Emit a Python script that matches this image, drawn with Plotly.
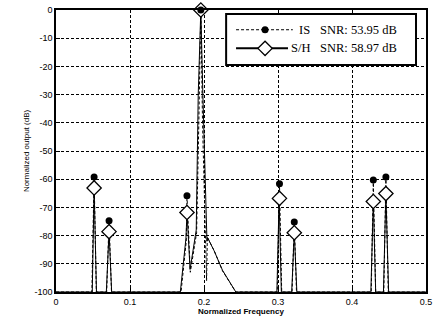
import plotly.graph_objects as go

# Tone markers (frequency, level in dB)
tone_f = [0.0515, 0.0717, 0.177, 0.1957, 0.302, 0.322, 0.4288, 0.4458]
is_db = [-59.2, -74.7, -65.9, 0.0, -61.6, -75.2, -60.3, -59.2]
sh_db = [-63.1, -78.6, -71.8, 0.0, -66.8, -79.0, -67.9, -65.1]

# Spectrum traces
is_x = [0.0, 0.0485, 0.0515, 0.0545, 0.0685, 0.0717, 0.0750, 0.1690, 0.1760, 0.1770,
        0.1815, 0.1900, 0.1930, 0.1957, 0.1980, 0.2035, 0.2045, 0.2140, 0.2250, 0.2430,
        0.2990, 0.3020, 0.3050, 0.3190, 0.3220, 0.3250, 0.4260, 0.4288, 0.4320, 0.4430,
        0.4458, 0.4490, 0.5]
is_y = [-100, -100, -59.2, -100, -100, -74.7, -100, -100, -82, -65.9,
        -93, -79, -40, 0, -40, -96, -80.5, -85.5, -92.5, -100,
        -100, -61.6, -100, -100, -75.2, -100, -100, -60.3, -100, -100,
        -59.2, -100, -100]
sh_x = [0.0, 0.0490, 0.0515, 0.0547, 0.0680, 0.0717, 0.0752, 0.1680, 0.1756, 0.1770,
        0.1812, 0.1895, 0.1922, 0.1957, 0.1985, 0.2040, 0.2047, 0.2137, 0.2250, 0.2430,
        0.2985, 0.3015, 0.3045, 0.3185, 0.3220, 0.3255, 0.4255, 0.4288, 0.4320, 0.4425,
        0.4458, 0.4495, 0.5]
sh_y = [-100, -100, -63.1, -100, -100, -78.6, -100, -100, -81, -71.8,
        -92, -78, -30, 0, -30, -82, -80.7, -85.4, -92.3, -100,
        -100, -66.8, -100, -100, -79.0, -100, -100, -67.9, -100, -100,
        -65.1, -100, -100]

x_ticks = [0, 0.1, 0.2, 0.3, 0.4, 0.5]
x_labels = ["0", "0.1", "0.2", "0.3", "0.4", "0.5"]
y_ticks = [0, -10, -20, -30, -40, -50, -60, -70, -80, -90, -100]
y_labels = ["0", "-10", "-20", "-30", "-40", "-50", "-60", "-70", "-80", "-90", "-100"]

series_names = ["IS", "S/H"]
series_snr = ["SNR: 53.95 dB", "SNR: 58.97 dB"]

DASH = "3px,2px"
circle_marker = dict(symbol="circle", size=7, color="black")
diamond_marker = dict(symbol="diamond", size=11, color="white",
                      line=dict(color="black", width=1.3))

fig = go.Figure()
fig.add_trace(go.Scatter(x=is_x, y=is_y, mode="lines", showlegend=False,
                         line=dict(color="black", width=1, dash=DASH)))
fig.add_trace(go.Scatter(x=sh_x, y=sh_y, mode="lines", showlegend=False,
                         line=dict(color="black", width=1)))
fig.add_trace(go.Scatter(x=tone_f, y=sh_db, mode="markers", showlegend=False,
                         cliponaxis=False, marker=diamond_marker))
fig.add_trace(go.Scatter(x=tone_f, y=is_db, mode="markers", showlegend=False,
                         cliponaxis=False, marker=circle_marker))

# ---- manual legend box (placed in axis units so it sits between grid and traces) ----
LX0, LX1, LY0, LY1 = 0.2299, 0.4865, -19.5, -1.4
row_y = [-7.0, -13.6]
line_x0 = 0.2433
line_x1 = [0.320, 0.3135]
mark_x = 0.2825
name_x = 0.346
snr_x = 0.3535

fig.add_shape(type="rect", xref="x", yref="y", x0=LX0, x1=LX1, y0=LY0, y1=LY1,
              line=dict(color="black", width=2), fillcolor="white", layer="between")
fig.add_shape(type="line", xref="x", yref="y", x0=line_x0, x1=line_x1[0],
              y0=row_y[0], y1=row_y[0], line=dict(color="black", width=1, dash=DASH),
              layer="between")
fig.add_shape(type="line", xref="x", yref="y", x0=line_x0, x1=line_x1[1],
              y0=row_y[1], y1=row_y[1], line=dict(color="black", width=2), layer="between")
fig.add_trace(go.Scatter(x=[mark_x], y=[row_y[0]], mode="markers",
                         showlegend=False, marker=circle_marker, cliponaxis=False))
fig.add_trace(go.Scatter(x=[mark_x], y=[row_y[1]], mode="markers",
                         showlegend=False, marker=diamond_marker, cliponaxis=False))
for i in range(2):
    fig.add_annotation(x=name_x, y=row_y[i], xref="x", yref="y",
                       text=series_names[i], showarrow=False,
                       xanchor="right", yanchor="middle",
                       font=dict(family="Liberation Serif", size=12.5, color="black"))
    fig.add_annotation(x=snr_x, y=row_y[i], xref="x", yref="y",
                       text=series_snr[i], showarrow=False,
                       xanchor="left", yanchor="middle",
                       font=dict(family="Liberation Serif", size=12.5, color="black"))

axis_common = dict(showline=True, linecolor="black", linewidth=1.5, mirror=True,
                   ticks="inside", ticklen=4, tickcolor="black",
                   showgrid=True, gridcolor="black", gridwidth=1, griddash=DASH,
                   zeroline=False,
                   tickfont=dict(family="Liberation Sans", size=9, color="black"))

fig.update_xaxes(range=[0, 0.5], tickvals=x_ticks, ticktext=x_labels,
                 title=dict(text="<b>Normalized Frequency</b>", standoff=2,
                            font=dict(family="Liberation Sans", size=8, color="black")),
                 **axis_common)
fig.update_yaxes(range=[-100, 0], tickvals=y_ticks, ticktext=y_labels,
                 title=dict(text="Normalized output (dB)", standoff=4,
                            font=dict(family="Liberation Sans", size=8, color="black")),
                 **axis_common)

fig.update_layout(
    width=437, height=329,
    margin=dict(l=56, r=9, t=5, b=37),
    plot_bgcolor="white", paper_bgcolor="white",
    showlegend=False,
)

fig.write_html("out.html")
